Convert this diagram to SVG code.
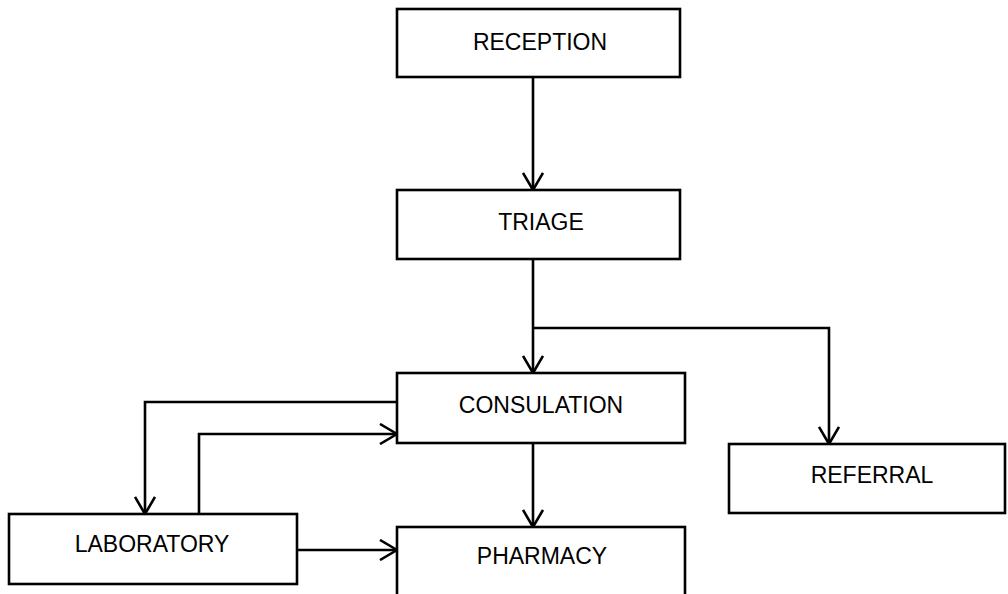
<svg xmlns="http://www.w3.org/2000/svg" width="1008" height="594" viewBox="0 0 1008 594">
  <defs>
    <marker id="arrow" viewBox="0 0 20 22" refX="18" refY="11" markerWidth="20" markerHeight="22" markerUnits="userSpaceOnUse" orient="auto">
      <path d="M1,1 L18,11 L1,21" fill="none" stroke="#000" stroke-width="2.6"/>
    </marker>
    <style>
      .box { fill: #fff; stroke: #000; stroke-width: 2.6; }
      .label { font-family: "Liberation Sans", Arial, sans-serif; font-size: 23px; fill: #000; text-anchor: middle; dominant-baseline: central; }
      .edge { fill: none; stroke: #000; stroke-width: 2.6; marker-end: url(#arrow); }
    </style>
  </defs>
  <rect width="1008" height="594" fill="#fff"/>

  <g id="connectors">
    <path class="edge" d="M533,77 L533,190"/>
    <path class="edge" d="M533,259 L533,373"/>
    <path class="edge" d="M533,328 L829,328 L829,444"/>
    <path class="edge" d="M397,402 L145,402 L145,514"/>
    <path class="edge" d="M199,514 L199,434 L397,434"/>
    <path class="edge" d="M533,443 L533,527"/>
    <path class="edge" d="M297,550 L397,550"/>
  </g>

  <g id="reception">
    <rect class="box" x="397" y="9" width="283" height="68"/>
    <text class="label" x="540" y="42">RECEPTION</text>
  </g>
  <g id="triage">
    <rect class="box" x="397" y="190" width="283" height="69"/>
    <text class="label" x="541" y="222">TRIAGE</text>
  </g>
  <g id="consulation">
    <rect class="box" x="397" y="373" width="288" height="70"/>
    <text class="label" x="541" y="405">CONSULATION</text>
  </g>
  <g id="referral">
    <rect class="box" x="729" y="444" width="276" height="69"/>
    <text class="label" x="872" y="475">REFERRAL</text>
  </g>
  <g id="laboratory">
    <rect class="box" x="9" y="514" width="288" height="70"/>
    <text class="label" x="152" y="544">LABORATORY</text>
  </g>
  <g id="pharmacy">
    <rect class="box" x="397" y="527" width="288" height="80"/>
    <text class="label" x="542" y="556">PHARMACY</text>
  </g>
</svg>
